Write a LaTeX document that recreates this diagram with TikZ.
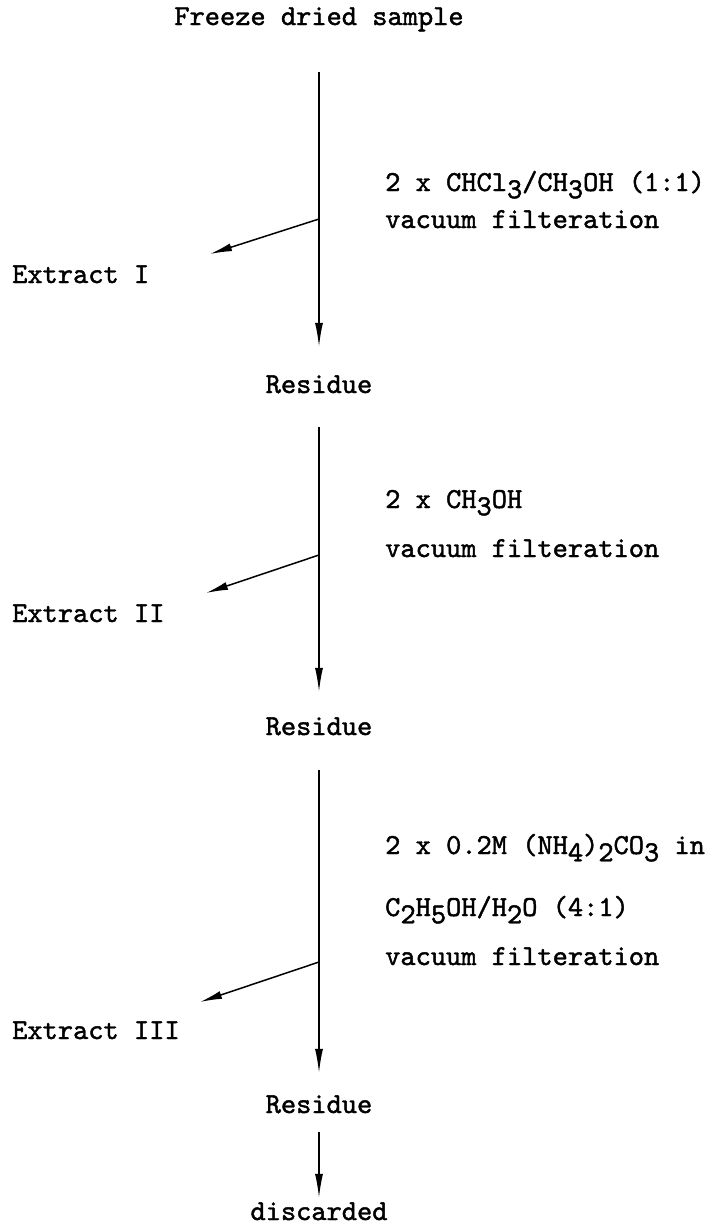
\documentclass[tikz,border=0pt]{standalone}
\usepackage{fontspec}
\newfontfamily\tw{lmmono10-regular}[Extension=.otf, FakeBold=1.5]
\usetikzlibrary{arrows.meta}
\newcommand\lo[1]{\raisebox{-0.25em}{#1}}
\begin{document}
\begin{tikzpicture}[x=1pt,y=-1pt,
  txt/.style={inner sep=0pt, font=\tw\fontsize{29}{34}\selectfont, text height=16pt, text depth=5pt},
  flow/.style={line width=1.4pt, -{Latex[length=24pt,width=8pt]}},
  side/.style={line width=1.5pt, -{Latex[length=22pt,width=8pt]}}]
\path[use as bounding box, fill=white] (0,0) rectangle (726,1226);
% main column
\node[txt,anchor=base] (title) at (319,25) {Freeze dried sample};
\node[txt,anchor=base] (res1) at (319,393) {Residue};
\node[txt,anchor=base] (res2) at (319,735) {Residue};
\node[txt,anchor=base] (res3) at (319,1113) {Residue};
\node[txt,anchor=base] (disc) at (319,1220) {discarded};
% extracts
\node[txt,anchor=base west] (ext1) at (12,283) {Extract I};
\node[txt,anchor=base west] (ext2) at (12,622) {Extract II};
\node[txt,anchor=base west] (ext3) at (12,1039) {Extract III};
% conditions
\node[txt,anchor=base west] (l1a) at (385,191) {2 x CHCl\lo{3}/CH\lo{3}OH (1:1)};
\node[txt,anchor=base west] (l1b) at (385,228) {vacuum filteration};
\node[txt,anchor=base west] (l2a) at (385,508) {2 x CH\lo{3}OH};
\node[txt,anchor=base west] (l2b) at (385,557) {vacuum filteration};
\node[txt,anchor=base west] (l3a) at (385,854) {2 x 0.2M (NH\lo{4})\lo{2}CO\lo{3} in};
\node[txt,anchor=base west] (l3b) at (385,916) {C\lo{2}H\lo{5}OH/H\lo{2}O (4:1)};
\node[txt,anchor=base west] (l3c) at (385,965) {vacuum filteration};
% branch points and tips
\coordinate (b1) at (319,219);
\coordinate (t1) at (210,254);
\coordinate (b2) at (319,555);
\coordinate (t2) at (206,593);
\coordinate (b3) at (319,962);
\coordinate (t3) at (200,1002);
% vertical flow
\draw[flow, shorten <=42pt, shorten >=30pt] (title.south) -- (res1.north);
\draw[flow, shorten <=29pt, shorten >=27pt] (res1.south) -- (res2.north);
\draw[flow, shorten <=30pt, shorten >=24pt] (res2.south) -- (res3.north);
\draw[flow, shorten <=14pt, shorten >=6pt] (res3.south) -- (disc.north);
% side branches
\draw[side] (b1) -- (t1);
\draw[side] (b2) -- (t2);
\draw[side] (b3) -- (t3);
\end{tikzpicture}
\end{document}
